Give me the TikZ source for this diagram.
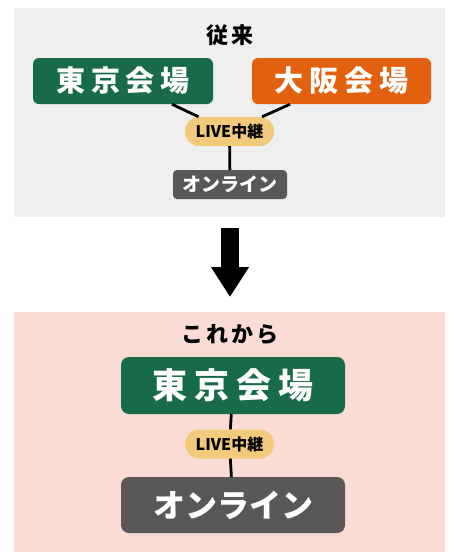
\documentclass[tikz,border=0pt]{standalone}
\usepackage{fontspec}
\newfontfamily\jp{Noto Sans CJK JP}
\newfontfamily\jpwide[LetterSpace=20]{Noto Sans CJK JP}
\newfontfamily\jptitle[LetterSpace=14]{Noto Sans CJK JP}
\usetikzlibrary{arrows.meta}
\definecolor{kaijo}{HTML}{176B48}
\definecolor{osaka}{HTML}{E2610F}
\definecolor{chukei}{HTML}{F3C97B}
\definecolor{online}{HTML}{595757}
\definecolor{mae}{HTML}{EFEFEF}
\definecolor{kore}{HTML}{FADCD5}
\begin{document}
\begin{tikzpicture}[x=1pt,y=-1pt,
    venue/.style ={rectangle, rounded corners=6pt, text=white, inner sep=0pt},
    live/.style ={rectangle, rounded corners=14pt, fill=chukei, minimum width=89pt, minimum height=29pt, inner sep=0pt, font=\jp\bfseries\fontsize{16}{16}\selectfont},
    link/.style ={line width=2.8pt}]
   \useasboundingbox (0,0) rectangle (449,552);
   \fill[mae] (14,8) rectangle (445,217);
   \fill[kore] (14,312) rectangle (445,552);
   % before
   \node (T1) at (230,35) {\jptitle\bfseries\fontsize{22}{22}\selectfont 従来};
   \node[venue, fill=kaijo, minimum width=180pt, minimum height=46pt] (A) at (123,81) {\jpwide\bfseries\fontsize{29}{29}\selectfont 東京会場};
   \node[venue, fill=osaka, minimum width=179pt, minimum height=46pt] (B) at (341.5,81) {\jpwide\bfseries\fontsize{29}{29}\selectfont 大阪会場};
   \node[live] (C) at (229.5,131.5) {LIVE中継};
   \node[venue, fill=online, rounded corners=4pt, minimum width=114pt, minimum height=29pt] (D) at (230,184.5) {\jp\bfseries\fontsize{19}{19}\selectfont オンライン};
   \draw[link] (A) to (C);
   \draw[link] (B) to (C);
   \draw[link] (C) to (D);
   % arrow
   \coordinate (P) at (230,228);
   \coordinate (Q) at (230,297);
   \draw[line width=18pt, -{Triangle[width=36pt,length=30pt]}] (P) to (Q);
   % after
   \node (T2) at (230,335) {\jptitle\bfseries\fontsize{22}{22}\selectfont これから};
   \node[venue, fill=kaijo, rounded corners=8pt, minimum width=224pt, minimum height=57pt] (E) at (233,385.5) {\jpwide\bfseries\fontsize{35}{35}\selectfont 東京会場};
   \node[live] (F) at (229.5,444) {LIVE中継};
   \node[venue, fill=online, rounded corners=8pt, minimum width=224pt, minimum height=56pt] (G) at (233,505) {\jp\bfseries\fontsize{32}{32}\selectfont オンライン};
   \draw[link] (E) to (F);
   \draw[link] (F) to (G);
 \end{tikzpicture}
\end{document}
